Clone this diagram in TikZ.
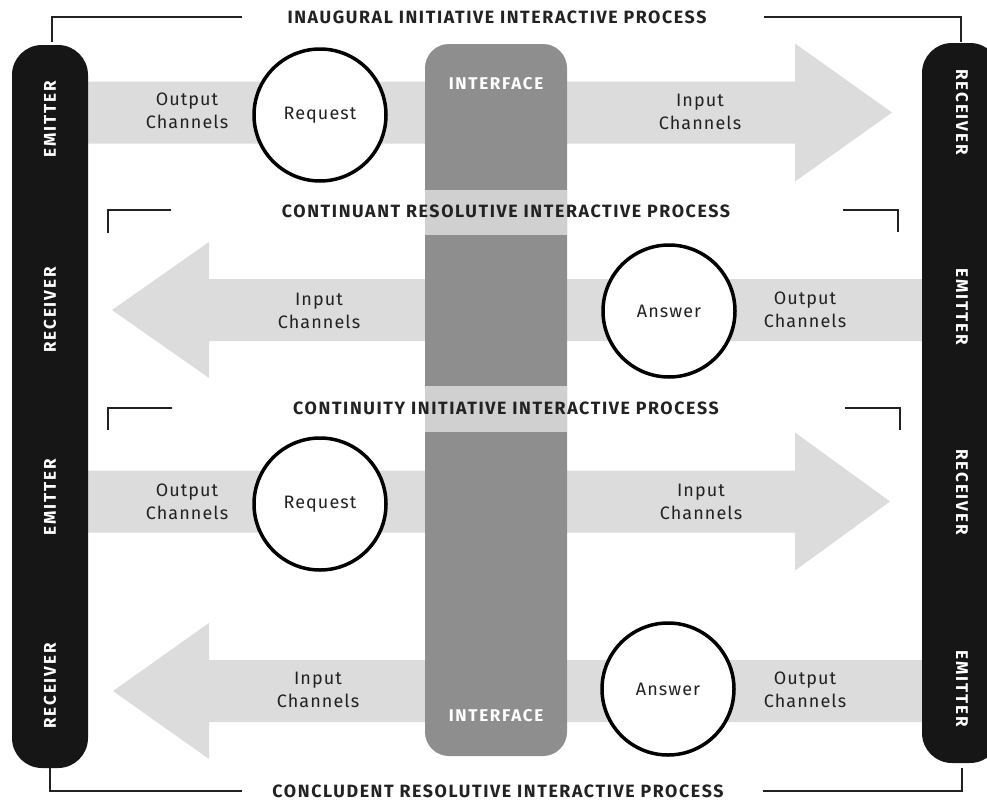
\documentclass[tikz,border=0pt]{standalone}
\usepackage{fontspec}
\setmainfont{Fira Sans}
\usepackage{tikz}
\usetikzlibrary{positioning,calc}
\definecolor{barblack}{HTML}{161616}
\definecolor{ifacegray}{HTML}{8E8E8E}
\definecolor{bandgray}{HTML}{CFD0CF}
\definecolor{chanfill}{HTML}{DCDCDC}
\definecolor{inkgray}{HTML}{222222}
\tikzset{
  bar/.style={fill=barblack, rounded corners=30pt},
  iface/.style={fill=ifacegray, rounded corners=24pt},
  band/.style={fill=bandgray},
  chan/.style={fill=chanfill},
  msg/.style={circle, draw=black, line width=3.5pt, fill=white, minimum size=132pt, inner sep=0pt, font=\fontsize{18}{21}\selectfont\addfontfeatures{LetterSpace=6}, text=inkgray},
  chanlabel/.style={align=center, font=\fontsize{18}{23}\selectfont\addfontfeatures{LetterSpace=6}, text=inkgray},
  proc/.style={font=\bfseries\fontsize{17.8}{20}\selectfont\addfontfeatures{LetterSpace=9}, text=inkgray},
  role/.style={font=\bfseries\fontsize{17}{20}\selectfont\addfontfeatures{LetterSpace=11}, text=white},
  ifacelabel/.style={font=\bfseries\fontsize{17}{20}\selectfont\addfontfeatures{LetterSpace=10}, text=white},
  bracket/.style={draw=inkgray, line width=1.5pt}
}

\begin{document}
\begin{tikzpicture}[x=1pt,y=-1pt]
\useasboundingbox (0,0) rectangle (987,803);
\clip (0,0) rectangle (987,803);

% channels, left to right
\foreach \c/\t in {112.5/892, 501.5/890}
  {
    \fill[chan] (88,\c-31) -- (795,\c-31) -- (795,\c-69) -- (\t,\c) -- (795,\c+69) -- (795,\c+31) -- (88,\c+31) -- cycle;
  }
% channels, right to left
\foreach \c/\t in {310/112, 691/113}
  {
    \fill[chan] (922,\c-31) -- (209,\c-31) -- (209,\c-68) -- (\t,\c) -- (209,\c+68) -- (209,\c+31) -- (922,\c+31) -- cycle;
  }

\fill[iface] (425,44) rectangle (567,756);
\fill[band] (425,190) rectangle (567,235);
\fill[band] (425,386) rectangle (567,432);

\fill[bar] (12,45) rectangle (88,768);
\fill[bar] (922,43) rectangle (1000,763);

\node[ifacelabel] (iftop) at (496,84) {INTERFACE};
\node[ifacelabel] (ifbot) at (496,716) {INTERFACE};

\node[role,rotate=90] (emit1) at (50,119) {EMITTER};
\node[role,rotate=90] (recv2) at (50,310) {RECEIVER};
\node[role,rotate=90] (emit3) at (50,497) {EMITTER};
\node[role,rotate=90] (recv4) at (50,686) {RECEIVER};
\node[role,rotate=-90] (recv1) at (962,112) {RECEIVER};
\node[role,rotate=-90] (emit2) at (962,307) {EMITTER};
\node[role,rotate=-90] (recv3) at (962,492) {RECEIVER};
\node[role,rotate=-90] (emit4) at (962,689) {EMITTER};

\node[msg] (req1) at (320,115) {Request};
\node[msg] (ans2) at (669,311) {Answer};
\node[msg] (req3) at (320,504) {Request};
\node[msg] (ans4) at (668,689) {Answer};

\node[chanlabel] (out1) at (187,111) {Output\\Channels};
\node[chanlabel] (in1) at (700,112) {Input\\Channels};
\node[chanlabel] (in2) at (319,311) {Input\\Channels};
\node[chanlabel] (out2) at (805,310) {Output\\Channels};
\node[chanlabel] (out3) at (187,502) {Output\\Channels};
\node[chanlabel] (in3) at (701,502) {Input\\Channels};
\node[chanlabel] (in4) at (318,690) {Input\\Channels};
\node[chanlabel] (out4) at (805,690) {Output\\Channels};

\node[proc] (inaug) at (497,17) {INAUGURAL INITIATIVE INTERACTIVE PROCESS};
\node[proc] (contres) at (506,211) {CONTINUANT RESOLUTIVE INTERACTIVE PROCESS};
\node[proc] (contini) at (506,408) {CONTINUITY INITIATIVE INTERACTIVE PROCESS};
\node[proc] (concl) at (498,791) {CONCLUDENT RESOLUTIVE INTERACTIVE PROCESS};

\draw[bracket] (52,42) -- (52,17) -- (242,17);
\draw[bracket] (764,17) -- (961,17) -- (961,42);
\draw[bracket] (108,233) -- (108,210) -- (171,210);
\draw[bracket] (843,210) -- (898,210) -- (898,232);
\draw[bracket] (108,430) -- (108,408) -- (172,408);
\draw[bracket] (845,408) -- (900,408) -- (900,430);
\draw[bracket] (50,768) -- (50,791) -- (242,791);
\draw[bracket] (763,791) -- (962,791) -- (962,768);

\end{tikzpicture}
\end{document}
